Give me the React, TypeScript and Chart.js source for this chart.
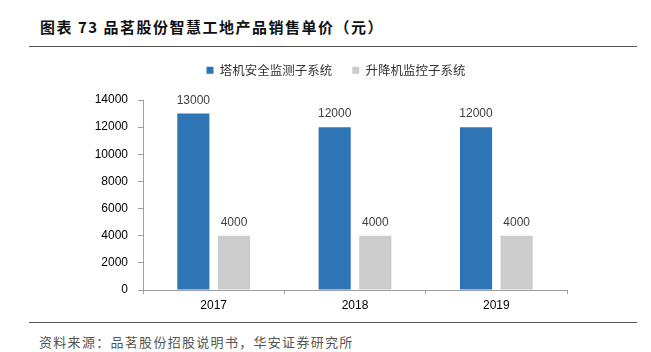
import React, { useEffect, useRef } from 'react';
import { Chart, registerables } from 'chart.js';

Chart.register(...registerables);

const categories = ['2017', '2018', '2019'];
const seriesNames = ['塔机安全监测子系统', '升降机监控子系统'];
const towerCraneValues = [13000, 12000, 12000];
const hoistValues = [4000, 4000, 4000];
const yTickValues = [0, 2000, 4000, 6000, 8000, 10000, 12000, 14000];
const seriesColors = ['#2E75B6', '#CCCCCC'];

const titleText = '图表 73 品茗股份智慧工地产品销售单价（元）';
const sourceText = '资料来源：品茗股份招股说明书，华安证券研究所';

const CJK = '"Noto Sans CJK SC", "Noto Sans", sans-serif';
const LATIN = '"Liberation Sans", Arial, sans-serif';

const legendSpacer = {
  id: 'legendSpacer',
  beforeInit(chart: any) {
    const legend = chart.legend;
    if (!legend) return;
    const origFit = legend.fit;
    legend.fit = function () {
      origFit.call(this);
      this.height += 13.5;
    };
  },
  afterLayout(chart: any) {
    const legend = chart.legend;
    if (!legend) return;
    legend.left = 105;
    legend.right = chart.chartArea.right;
    legend.width = legend.right - legend.left;
  },
};

const valueLabels = {
  id: 'valueLabels',
  afterDatasetsDraw(chart: any) {
    const ctx = chart.ctx;
    ctx.save();
    ctx.font = `12px ${LATIN}`;
    ctx.fillStyle = '#404040';
    ctx.textAlign = 'center';
    ctx.textBaseline = 'alphabetic';
    chart.data.datasets.forEach((ds: any, i: number) => {
      const meta = chart.getDatasetMeta(i);
      meta.data.forEach((el: any, j: number) => {
        ctx.fillText(String(ds.data[j]), el.x, el.y - 10);
      });
    });
    ctx.restore();
  },
};

export default function App() {
  const canvasRef = useRef<HTMLCanvasElement | null>(null);

  useEffect(() => {
    const canvas = canvasRef.current;
    if (!canvas) return;
    const chart = new Chart(canvas, {
      type: 'bar',
      data: {
        labels: categories,
        datasets: [
          {
            label: seriesNames[0],
            data: towerCraneValues,
            backgroundColor: seriesColors[0],
            borderWidth: 0,
            categoryPercentage: 0.575,
            barPercentage: 0.79,
          },
          {
            label: seriesNames[1],
            data: hoistValues,
            backgroundColor: seriesColors[1],
            borderWidth: 0,
            categoryPercentage: 0.575,
            barPercentage: 0.79,
          },
        ],
      },
      options: {
        responsive: false,
        animation: false,
        devicePixelRatio: 1,
        layout: { padding: { left: 0, right: 84, top: 0, bottom: 0 } },
        plugins: {
          tooltip: { enabled: false },
          legend: {
            display: true,
            position: 'top',
            labels: {
              boxWidth: 7,
              boxHeight: 7,
              padding: 20,
              color: '#333333',
              font: { family: CJK, size: 12.5 },
            },
          },
        },
        scales: {
          x: {
            grid: {
              display: true,
              drawOnChartArea: false,
              drawTicks: true,
              tickLength: 4,
              color: '#A0A0A0',
              offset: true,
            },
            border: { display: true, color: '#A0A0A0', width: 1 },
            ticks: {
              color: '#000000',
              padding: 4,
              font: { family: LATIN, size: 12 },
            },
            afterFit(scale: any) {
              scale.height = 30;
            },
          },
          y: {
            min: 0,
            max: 14000,
            afterBuildTicks(scale: any) {
              scale.ticks = yTickValues.map((v) => ({ value: v }));
            },
            grid: {
              display: true,
              drawOnChartArea: false,
              drawTicks: true,
              tickLength: 5,
              color: '#A0A0A0',
            },
            border: { display: true, color: '#A0A0A0', width: 1 },
            ticks: {
              color: '#000000',
              padding: 10,
              font: { family: LATIN, size: 12 },
              callback: (value: any) => String(value),
            },
            afterFit(scale: any) {
              scale.width = 143;
            },
          },
        },
      },
      plugins: [legendSpacer, valueLabels],
    } as any);
    return () => chart.destroy();
  }, []);

  return (
    <div
      style={{
        position: 'absolute',
        left: 0,
        top: 0,
        width: 651,
        height: 352,
        background: '#ffffff',
        overflow: 'hidden',
      }}
    >
      <div
        style={{
          position: 'absolute',
          left: 40,
          top: 18,
          fontFamily: CJK,
          fontWeight: 700,
          fontSize: 15,
          lineHeight: '18px',
          letterSpacing: '1.5px',
          color: '#111111',
          whiteSpace: 'nowrap',
        }}
      >
        {titleText}
      </div>
      <div
        style={{
          position: 'absolute',
          left: 29,
          top: 46,
          width: 608,
          height: 0,
          borderTop: '1.5px solid #555555',
        }}
      />
      <canvas
        ref={canvasRef}
        width={651}
        height={276}
        style={{ position: 'absolute', left: 0, top: 44, width: 651, height: 276 }}
      />
      <div
        style={{
          position: 'absolute',
          left: 29,
          top: 322,
          width: 608,
          height: 0,
          borderTop: '1.5px solid #555555',
        }}
      />
      <div
        style={{
          position: 'absolute',
          left: 39,
          top: 334,
          fontFamily: CJK,
          fontSize: 13,
          lineHeight: '16px',
          letterSpacing: '1.3px',
          color: '#555555',
          whiteSpace: 'nowrap',
        }}
      >
        {sourceText}
      </div>
    </div>
  );
}
